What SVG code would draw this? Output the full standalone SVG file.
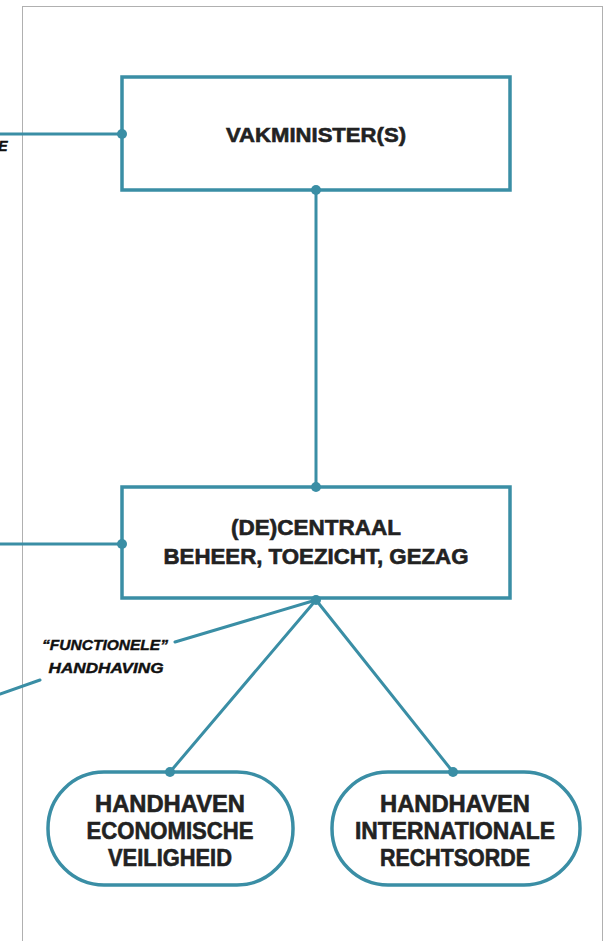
<svg xmlns="http://www.w3.org/2000/svg" width="609" height="941" viewBox="0 0 609 941">
<style>
.ln{stroke:#3a8ea5;stroke-width:3;fill:none;stroke-linecap:round}
.box{stroke:#3a8ea5;stroke-width:3.5;fill:#fff}
.dot{fill:#3a8ea5}
.t{font-family:"Liberation Sans",Arial,sans-serif;font-weight:bold;fill:#222;stroke:#222;stroke-width:0.6;text-anchor:middle}
.lbl{font-family:"Liberation Sans",Arial,sans-serif;font-weight:bold;font-style:italic;fill:#111;stroke:#111;stroke-width:0.4;text-anchor:middle;font-size:14px}
</style>
<rect x="0" y="0" width="609" height="941" fill="#fff"/>
<rect x="22.5" y="6.5" width="580" height="960" fill="none" stroke="#b0b0b0" stroke-width="1"/>
<g id="connectors">
<line class="ln" x1="0" y1="134" x2="122" y2="134"/>
<line class="ln" x1="316" y1="190" x2="316" y2="487"/>
<line class="ln" x1="0" y1="544" x2="122" y2="544"/>
<line class="ln" x1="316" y1="600" x2="170" y2="772"/>
<line class="ln" x1="316" y1="600" x2="453" y2="772"/>
<line class="ln" x1="316" y1="600" x2="175" y2="642"/>
<line class="ln" x1="40" y1="680" x2="0" y2="694"/>
</g>
<g id="node-vakminister">
<rect class="box" x="122" y="77" width="388" height="113"/>
<text class="t" x="316" y="142" font-size="21" textLength="180" lengthAdjust="spacingAndGlyphs">VAKMINISTER(S)</text>
</g>
<g id="node-decentraal">
<rect class="box" x="122" y="487" width="388" height="111"/>
<text class="t" x="316" y="535" font-size="22" textLength="170" lengthAdjust="spacingAndGlyphs">(DE)CENTRAAL</text>
<text class="t" x="316" y="564" font-size="22" textLength="305" lengthAdjust="spacingAndGlyphs">BEHEER, TOEZICHT, GEZAG</text>
</g>
<g id="node-economisch">
<rect class="box" x="48" y="772" width="245" height="113" rx="56" ry="56"/>
<text class="t" x="170" y="812" font-size="24" textLength="150" lengthAdjust="spacingAndGlyphs">HANDHAVEN</text>
<text class="t" x="170" y="839" font-size="24" textLength="167" lengthAdjust="spacingAndGlyphs">ECONOMISCHE</text>
<text class="t" x="170" y="866" font-size="24" textLength="124" lengthAdjust="spacingAndGlyphs">VEILIGHEID</text>
</g>
<g id="node-internationaal">
<rect class="box" x="332" y="772" width="248" height="113" rx="56" ry="56"/>
<text class="t" x="455" y="812" font-size="24" textLength="150" lengthAdjust="spacingAndGlyphs">HANDHAVEN</text>
<text class="t" x="455" y="839" font-size="24" textLength="200" lengthAdjust="spacingAndGlyphs">INTERNATIONALE</text>
<text class="t" x="455" y="866" font-size="24" textLength="150" lengthAdjust="spacingAndGlyphs">RECHTSORDE</text>
</g>
<g id="labels">
<text class="lbl" x="3" y="151">E</text>
<text class="lbl" x="105" y="650" textLength="126" lengthAdjust="spacingAndGlyphs">“FUNCTIONELE”</text>
<text class="lbl" x="106" y="673" textLength="115" lengthAdjust="spacingAndGlyphs">HANDHAVING</text>
</g>
<g id="dots">
<circle class="dot" cx="122" cy="134" r="5"/>
<circle class="dot" cx="316" cy="190" r="5"/>
<circle class="dot" cx="316" cy="487" r="5"/>
<circle class="dot" cx="122" cy="544" r="5"/>
<circle class="dot" cx="316" cy="600" r="5"/>
<circle class="dot" cx="170" cy="772" r="5"/>
<circle class="dot" cx="453" cy="772" r="5"/>
</g>
</svg>
